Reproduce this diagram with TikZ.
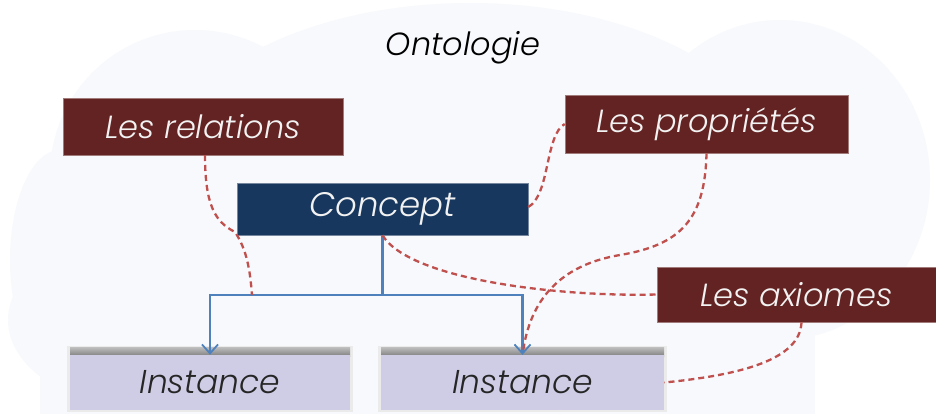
\documentclass[tikz,border=0pt]{standalone}
\usepackage{fontspec}
\setmainfont{Poppins Light}[ItalicFont={Poppins Light Italic}]
\usetikzlibrary{arrows.meta}
\definecolor{bg}{HTML}{F7F9FC}
\definecolor{dred}{HTML}{622322}
\definecolor{navy}{HTML}{17375E}
\definecolor{lav}{HTML}{CFCDE6}
\definecolor{lblue}{HTML}{4F81BD}
\definecolor{dashred}{HTML}{C0504D}
\tikzset{
  redbox/.style={fill=dred, draw=dred!60!white, line width=0.6pt, text=white!95!black, inner sep=0pt, font=\fontsize{32}{34}\selectfont\itshape},
  navybox/.style={fill=navy, draw=navy!60!white, line width=0.6pt, text=white!95!black, inner sep=0pt, font=\fontsize{34}{36}\selectfont\itshape},
  instbox/.style={fill=lav, inner sep=0pt, text=black!85, font=\fontsize{33}{36}\selectfont\itshape},
  link/.style={draw=dashred, line width=2.3pt, dash pattern=on 6pt off 4pt},
  tree/.style={draw=lblue, line width=2.3pt},
  treearrow/.style={tree, -{Straight Barb[length=9pt,width=16pt,line width=1.8pt]}},
}
\begin{document}
\begin{tikzpicture}[x=1pt,y=-1pt]
\useasboundingbox (0,0) rectangle (936,418);
\fill[white] (0,0) rectangle (936,418);
% cloud background
\begin{scope}[fill=bg]
\fill (470,175) ellipse [x radius=310, y radius=172];
\fill (195,175) ellipse [x radius=145, y radius=145];
\fill (780,180) ellipse [x radius=150, y radius=160];
\fill (160,320) ellipse [x radius=152, y radius=92];
\fill (60,260) ellipse [x radius=50, y radius=110];
\fill (40,170) rectangle (815,414);
\fill (560,290) ellipse [x radius=260, y radius=124];
\end{scope}
% title
\node (title) at (463,48) {\fontsize{32}{34}\selectfont\itshape Ontologie};
% boxes
\node[redbox, minimum width=280pt, minimum height=57pt] (rel) at (203,126.5) {Les relations};
\node[redbox, minimum width=283pt, minimum height=58pt] (prop) at (706.5,124) {Les propriétés};
\node[redbox, minimum width=279pt, minimum height=55pt] (ax) at (796.5,294.5) {Les axiomes};
\node[navybox, minimum width=291pt, minimum height=52pt] (con) at (382.5,209) {Concept};
% instance shadows
\foreach \cx/\w in {210/280, 522.5/283} {
  \fill[black!8] (\cx-\w/2-3,346) rectangle (\cx+\w/2+3,412);
  \shade[top color=black!25, bottom color=black!50] (\cx-\w/2,347) rectangle (\cx+\w/2,356);
}
\node[instbox, minimum width=280pt, minimum height=55pt] (i1) at (210,382.5) {Instance};
\node[instbox, minimum width=283pt, minimum height=55pt] (i2) at (522.5,382.5) {Instance};
% tree connectors
\coordinate (j) at (382.5,295);
\draw[tree] (con.south) -- (j);
\draw[treearrow] (j) -| (i1.north);
\draw[treearrow] (j) -| (i2.north);
% dashed links
\draw[link] (205,155) .. controls (205,205) and (215,222) .. (235,232) .. controls (247,250) and (250,270) .. (252,295);
\draw[link] (con.east) ++(0,-2) .. controls (550,195) and (545,135) .. (prop.west);
\draw[link] (prop.south) .. controls (705,220) and (680,245) .. (620,255) .. controls (560,265) and (530,300) .. (523,352);
\draw[link] (con.south) .. controls (410,280) and (560,297) .. (ax.west);
\draw[link] (ax.south) ++(5,0) .. controls (800,360) and (740,375) .. (i2.east);
\end{tikzpicture}
\end{document}
